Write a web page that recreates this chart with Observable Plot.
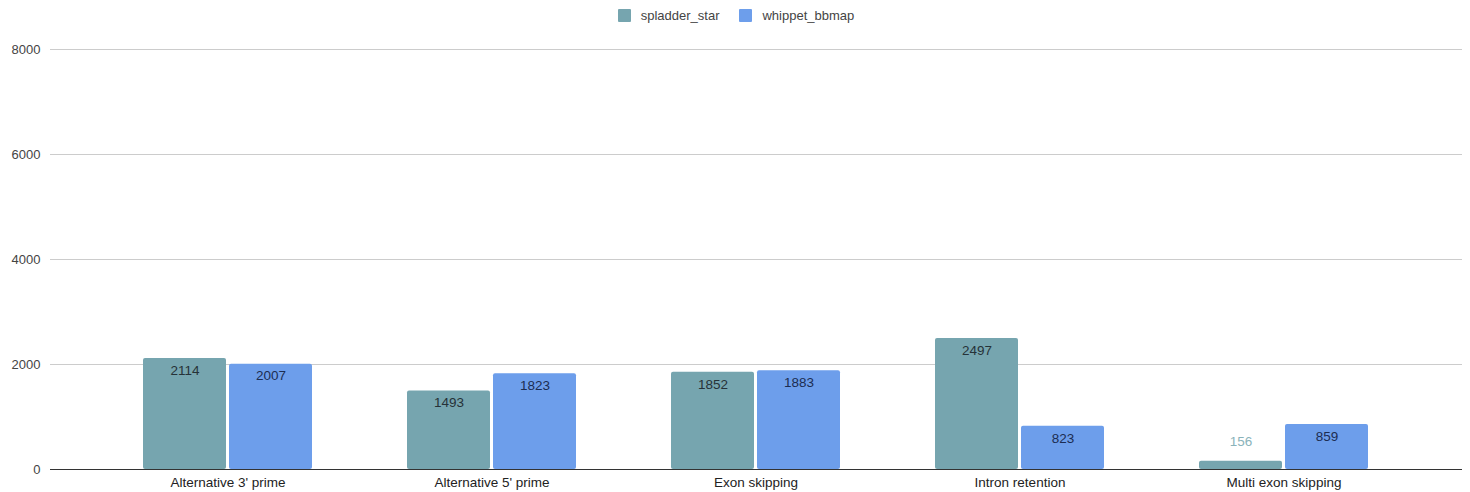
<!DOCTYPE html>
<html><head><meta charset="utf-8">
<script src="https://cdn.jsdelivr.net/npm/d3@7"></script>
<script src="https://cdn.jsdelivr.net/npm/@observablehq/plot@0.6"></script>
<style>
body{margin:0;background:#fff;font-family:Arial,"Liberation Sans",sans-serif;}
#legend{height:30px;display:flex;justify-content:center;align-items:center;font-size:13px;color:#444;padding-left:2px;}
.item{display:flex;align-items:center;margin:0 10px;}
.sw{width:13px;height:13px;border-radius:1px;margin-right:10px;}
svg g[aria-label^="x-axis"] text{fill:#222;font-size:13.5px;}
</style></head><body>
<div id="legend"></div><div id="chart"></div>
<script>
const categories = ["Alternative 3' prime","Alternative 5' prime","Exon skipping","Intron retention","Multi exon skipping"];
const seriesNames = ["spladder_star","whippet_bbmap"];
const spladderStar = [2114,1493,1852,2497,156];
const whippetBbmap = [2007,1823,1883,823,859];
const yTicks = [0,2000,4000,6000,8000];
const colors = ["#76a5af","#6d9eeb"];
const labelColors = ["#263238","#1c2d52"];

const legend = document.getElementById("legend");
seriesNames.forEach((s,i)=>{
  const it = document.createElement("div"); it.className="item";
  const sw = document.createElement("div"); sw.className="sw"; sw.style.background=colors[i];
  const t = document.createElement("span"); t.textContent=s;
  it.appendChild(sw); it.appendChild(t); legend.appendChild(it);
});

const rows = categories.map((c,i)=>({category:c, a:spladderStar[i], b:whippetBbmap[i]}));
const font = 'Arial,"Liberation Sans",sans-serif';
const chart = Plot.plot({
  width:1470, height:462, marginTop:19, marginBottom:23, marginLeft:50, marginRight:8,
  style:{fontFamily:font, fontSize:"13px", color:"#444", background:"#fff", overflow:"visible"},
  x:{domain:categories, label:null, insetLeft:45, insetRight:46, paddingInner:0.36, paddingOuter:0.18, tickSize:0, tickPadding:8},
  y:{domain:[0,8000], ticks:yTicks, label:null, tickSize:0, tickPadding:10, tickFormat:d3.format("d")},
  marks:[
    Plot.ruleY(yTicks.slice(1), {stroke:"#cccccc"}),
    Plot.barY(rows, {x:"category", y:"a", fill:colors[0], insetRight:86, rx:2}),
    Plot.barY(rows, {x:"category", y:"b", fill:colors[1], insetLeft:86, rx:2}),
    Plot.ruleY([0], {stroke:"#333"}),
    Plot.text(rows, {filter:d=>d.a>=400, x:"category", y:"a", text:d=>String(d.a), dx:-43, dy:12, fill:labelColors[0], fontSize:13.5}),
    Plot.text(rows, {filter:d=>d.a<400, x:"category", y:"a", text:d=>String(d.a), dx:-43, dy:-20, fill:"#8ab3ba", fontSize:13.5}),
    Plot.text(rows, {filter:d=>d.b>=400, x:"category", y:"b", text:d=>String(d.b), dx:43, dy:12, fill:labelColors[1], fontSize:13.5}),
    Plot.text(rows, {filter:d=>d.b<400, x:"category", y:"b", text:d=>String(d.b), dx:43, dy:-20, fill:colors[1], fontSize:13.5})
  ]
});
document.getElementById("chart").appendChild(chart);
</script>
</body></html>
